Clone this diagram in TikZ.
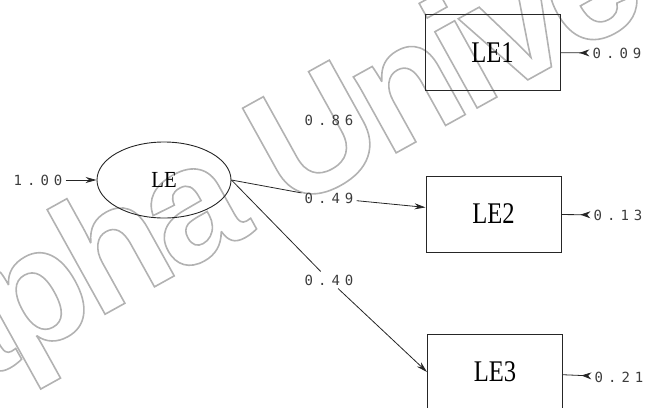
\documentclass[tikz,border=0pt]{standalone}
\usepackage{fontspec}
\usetikzlibrary{shapes.geometric,arrows.meta}
\newfontfamily\numfont[LetterSpace=36]{DejaVu Sans Mono}
\newfontfamily\labfont{Liberation Serif}
\newfontfamily\wmfont[LetterSpace=-5]{Liberation Sans}
\definecolor{ink}{gray}{0.15}
\newcommand\outlinetext[1]{\special{pdf:literal direct 1 Tr 1.6 w 0.7 G}#1\special{pdf:literal direct 0 Tr 0 G}}
\tikzset{
  obsbox/.style={draw=ink, line width=1pt, minimum width=135pt, minimum height=76pt, inner sep=0pt,
    font=\labfont\fontsize{30}{30}\selectfont},
  latent/.style={ellipse, draw=ink, line width=0.9pt, minimum width=134pt, minimum height=76pt, inner sep=0pt,
    font=\labfont\fontsize{23}{23}\selectfont},
  coef/.style={font=\numfont\fontsize{14}{14}\selectfont, text=ink!90, inner sep=3pt},
  conn/.style={draw=ink, line width=0.8pt},
  arr/.style={conn, -{Stealth[length=11pt,width=6pt]}},
  resid/.style={conn, -{Stealth[length=10pt,width=7pt,reversed]}}
}
\begin{document}
\begin{tikzpicture}[x=1pt,y=-1pt]
\useasboundingbox (0,0) rectangle (647,407);
\clip (0,0) rectangle (647,407);
% watermark
\node[rotate=29, anchor=base west, inner sep=0pt] (wm) at (-286,531)
  {\wmfont\bfseries\fontsize{165}{165}\selectfont\outlinetext{Burapha University}};
% nodes
\node[latent] (LE) at (164,180) {\scalebox{0.9}[1]{LE}};
\node[obsbox] (LE1) at (492.5,52.5) {\scalebox{0.82}[1]{LE1}};
\node[obsbox] (LE2) at (493.5,214) {\scalebox{0.82}[1]{LE2}};
\node[obsbox] (LE3) at (495,372) {\scalebox{0.82}[1]{LE3}};
\node[coef] (v0) at (38,180) {1.00};
\node[coef] (e1) at (617,53) {0.09};
\node[coef] (e2) at (618,215) {0.13};
\node[coef] (e3) at (619,377) {0.21};
\node[coef] (l86) at (329,120) {0.86};
\node[coef] (l49) at (329,198) {0.49};
\node[coef] (l40) at (329,280) {0.40};
% connectors
\draw[arr] (v0) -- (LE);
\draw[conn] (LE.east) -- (l49);
\draw[arr] (l49) -- (LE2);
\draw[conn] (LE.east) -- (l40);
\draw[arr] (l40) -- (LE3.west);
\draw[resid] (LE1) -- (e1);
\draw[resid] (LE2) -- (e2);
\draw[resid] (LE3) -- (e3);
\end{tikzpicture}
\end{document}
